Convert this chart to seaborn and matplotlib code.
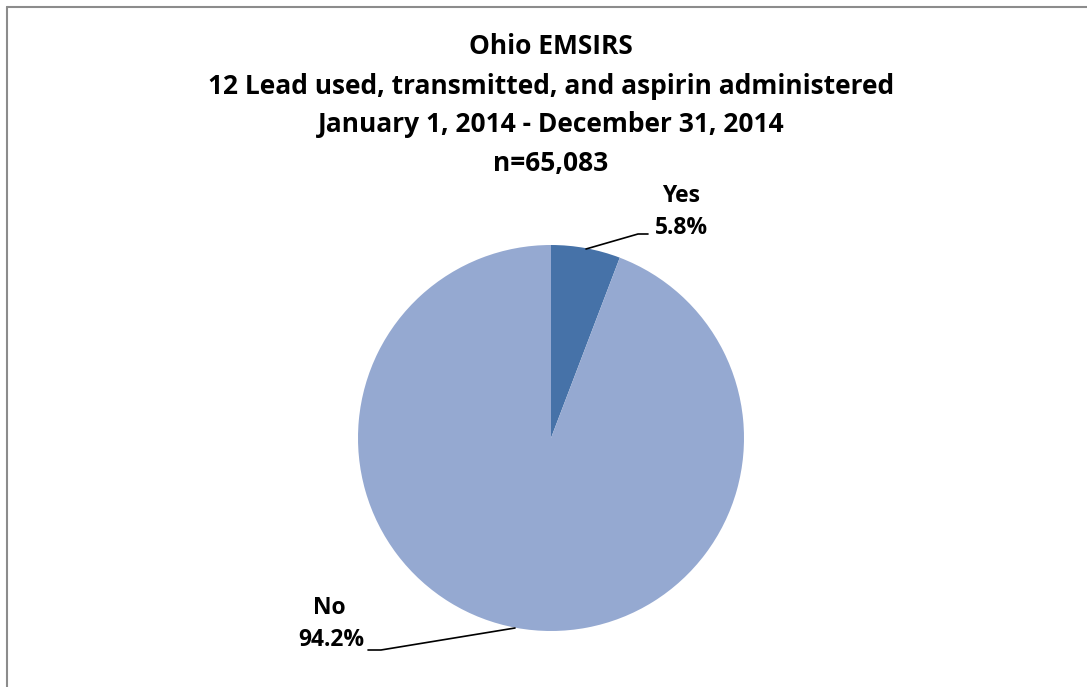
import matplotlib
matplotlib.use("Agg")
import matplotlib.pyplot as plt
import seaborn as sns

sns.set_theme(style="white")
plt.rcParams['font.family'] = ['Open Sans', 'DejaVu Sans']

categories = ["Yes", "No"]
values = [5.8, 94.2]
colors = ["#4672A8", "#95A9D1"]
title_lines = ["Ohio EMSIRS",
               "12 Lead used, transmitted, and aspirin administered",
               "January 1, 2014 - December 31, 2014",
               "n=65,083"]

W, H = 1087, 687
fig = plt.figure(figsize=(W / 100, H / 100), dpi=100)
fig.patch.set_facecolor("white")

cx, cy, r = 551, 438, 193
ax = fig.add_axes([(cx - r) / W, (H - cy - r) / H, 2 * r / W, 2 * r / H])
wedges, _ = ax.pie(values, colors=colors, startangle=90, counterclock=False,
                   radius=1.0, wedgeprops=dict(linewidth=0))
ax.set_xlim(-1, 1)
ax.set_ylim(-1, 1)
ax.set_aspect("equal")
ax.axis("off")

def d(px, py):
    return ((px - cx) / r, (cy - py) / r)

# leader lines
x1, y1 = d(586, 249); x2, y2 = d(638, 234); x3, y3 = d(648, 234)
ax.plot([x1, x2, x3], [y1, y2, y3], color="black", lw=1.2, clip_on=False)
x1, y1 = d(515, 628); x2, y2 = d(381, 650); x3, y3 = d(368, 650)
ax.plot([x1, x2, x3], [y1, y2, y3], color="black", lw=1.2, clip_on=False)

lab_style = dict(fontsize=16.5, fontweight="bold", color="black", ha="center", va="center")
tx, ty = d(681, 196)
ax.text(tx, ty, categories[0], clip_on=False, **lab_style)
tx, ty = d(681, 228)
ax.text(tx, ty, f"{values[0]:.1f}%", clip_on=False, **lab_style)
tx, ty = d(329, 608)
ax.text(tx, ty, categories[1], clip_on=False, **lab_style)
tx, ty = d(331, 640)
ax.text(tx, ty, f"{values[1]:.1f}%", clip_on=False, **lab_style)

# title
ys = [47, 86, 125, 164]
for line, y in zip(title_lines, ys):
    fig.text(551 / W, 1 - y / H, line, ha="center", va="center",
             fontsize=19, fontweight="bold", color="black")

# frame (left and top edges visible)
fig.add_artist(plt.Line2D([6.5 / W, 6.5 / W], [0, 1 - 6.5 / H], color="#8c8c8c", lw=1.5,
                          transform=fig.transFigure))
fig.add_artist(plt.Line2D([6.5 / W, 1], [1 - 6.5 / H, 1 - 6.5 / H], color="#8c8c8c", lw=1.5,
                          transform=fig.transFigure))

fig.savefig("out.png", dpi=100, facecolor="white")
